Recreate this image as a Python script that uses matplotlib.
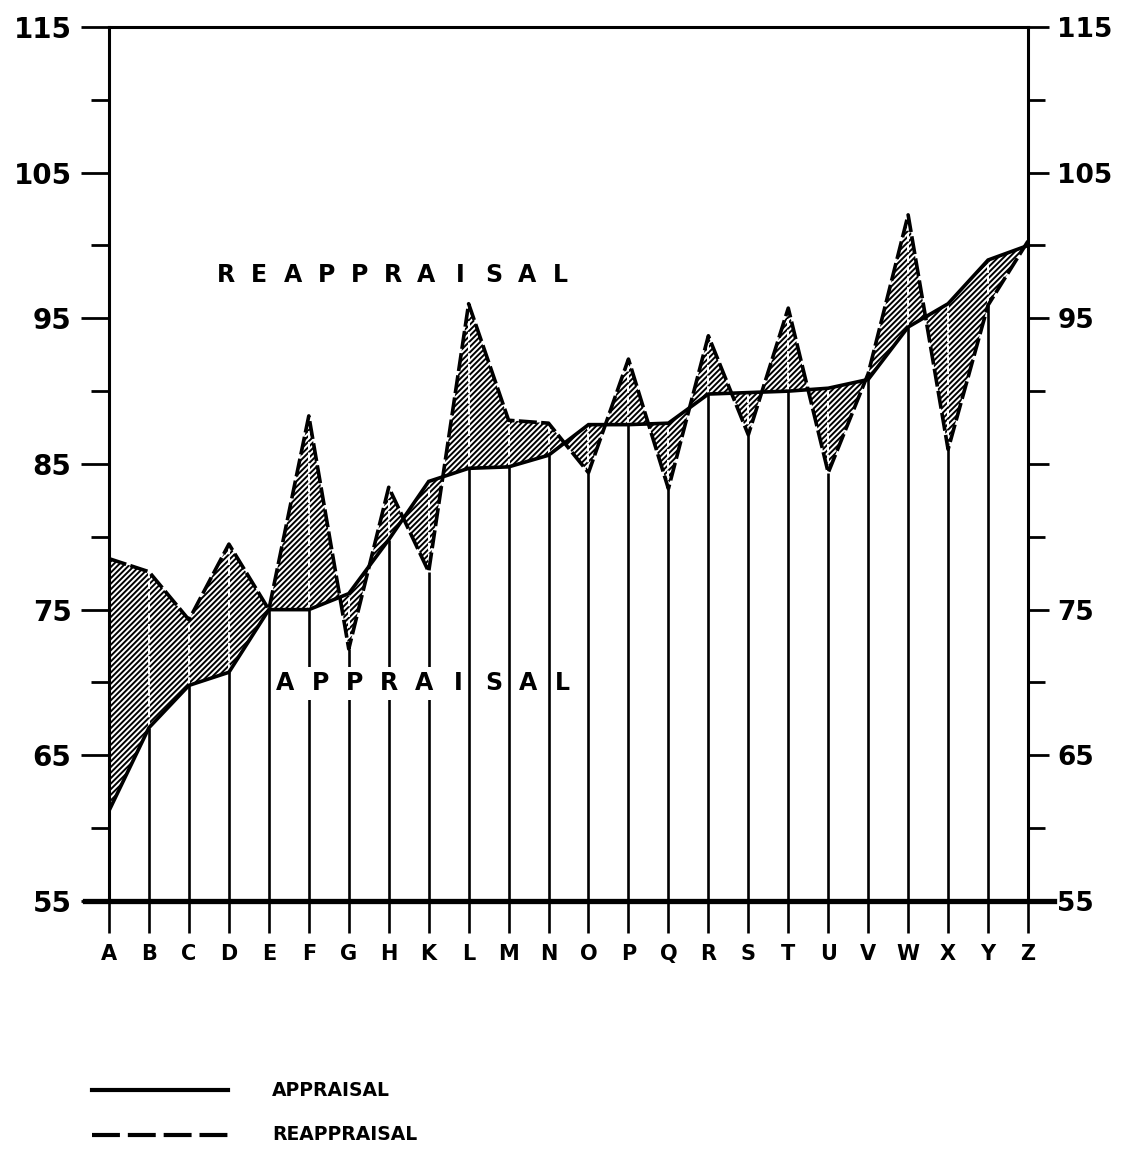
import numpy as np
import matplotlib
matplotlib.use("Agg")
import matplotlib.pyplot as plt
from matplotlib.lines import Line2D

# values (sorted by appraisal)
cats = ['A', 'B', 'C', 'D', 'E', 'F', 'G', 'H', 'K', 'L', 'M', 'N',
        'O', 'P', 'Q', 'R', 'S', 'T', 'U', 'V', 'W', 'X', 'Y', 'Z']
appraisal = [61.2, 66.9, 69.8, 70.7, 75.0, 75.0, 76.1, 79.8, 83.8, 84.7, 84.8, 85.6,
             87.7, 87.7, 87.8, 89.8, 89.9, 90.0, 90.2, 90.8, 94.4, 96.0, 99.0, 100.0]
reappraisal = [78.5, 77.6, 74.3, 79.5, 75.0, 88.3, 72.3, 83.4, 77.6, 96.0, 88.0, 87.8,
               84.4, 92.2, 83.3, 93.8, 87.0, 95.7, 84.4, 91.2, 102.1, 86.0, 95.9, 100.3]

left_labels = [55, 65, 75, 85, 95, 105, 115]
right_labels = ['55', '65', '75', '', '95', '105', '115']
minor = [60, 70, 80, 90, 100, 110]

plt.rcParams['hatch.linewidth'] = 1.4
plt.rcParams['hatch.color'] = 'black'

fig = plt.figure(figsize=(11.23, 11.52), dpi=100)
ax = fig.add_axes([0.0971, 0.2179, 0.8183, 0.7587])

x = np.arange(len(cats))
appr = np.array(appraisal)
reap = np.array(reappraisal)

ax.fill_between(x, appr, reap, facecolor='white', edgecolor='black',
                hatch='//////', linewidth=0, zorder=1)

lo = np.minimum(appr, reap)
hi = np.maximum(appr, reap)
ax.vlines(x, 55, lo, colors='black', linewidth=1.9, zorder=2)
ax.vlines(x, lo, hi, colors='white', linewidth=1.4, linestyles=(0, (4, 1.5)), zorder=2)

ax.plot(x, appr, color='black', lw=2.6, solid_joinstyle='miter', zorder=3)
ax.plot(x, reap, color='black', lw=2.6, dashes=(5, 1.2), zorder=3)

# baseline sticks out past both axes
ax.plot([-0.6, 23.65], [55, 55], color='black', lw=3.8, clip_on=False, zorder=4)

ax.set_xlim(0, 23)
ax.set_ylim(55, 115)
for s in ['left', 'right', 'top']:
    ax.spines[s].set_linewidth(2.2)
ax.spines['bottom'].set_visible(False)

ax.set_xticks(x, cats)
ax.tick_params(axis='x', length=23, width=1.9, pad=8, labelsize=15)
for t in ax.get_xticklabels():
    t.set_fontweight('bold')

ax.set_yticks(left_labels, [str(v) for v in left_labels])
ax.set_yticks(minor, minor=True)
ax.tick_params(axis='y', which='major', length=20, width=2.0, pad=7, labelsize=20)
ax.tick_params(axis='y', which='minor', length=13, width=2.0)
for t in ax.get_yticklabels():
    t.set_fontweight('bold')

ax2 = ax.twinx()
ax2.set_ylim(55, 115)
ax2.set_yticks(left_labels, right_labels)
ax2.set_yticks(minor, minor=True)
ax2.tick_params(axis='y', which='major', length=15, width=2.0, pad=6, labelsize=19)
ax2.tick_params(axis='y', which='minor', length=12, width=2.0)
for t in ax2.get_yticklabels():
    t.set_fontweight('bold')
for s in ax2.spines.values():
    s.set_visible(False)

# spaced-out series names inside the plot
for i, ch in enumerate("REAPPRAISAL"):
    ax.text(0.127 + i * 0.0364, 0.716, ch, transform=ax.transAxes, ha='center',
            va='center', fontsize=17, fontweight='bold', zorder=5)
for i, ch in enumerate("APPRAISAL"):
    ax.text(0.192 + i * 0.0377, 0.249, ch, transform=ax.transAxes, ha='center',
            va='center', fontsize=17, fontweight='bold', zorder=5,
            bbox=dict(facecolor='white', edgecolor='none', pad=3))

# legend drawn by hand below the chart
fig.add_artist(Line2D([0.082, 0.203], [0.0538, 0.0538], color='black', lw=3,
                      transform=fig.transFigure))
fig.add_artist(Line2D([0.082, 0.203], [0.0148, 0.0148], color='black', lw=3,
                      dashes=(6.7, 1.9), transform=fig.transFigure))
fig.text(0.242, 0.0538, "APPRAISAL", fontsize=13.5, fontweight='bold', va='center')
fig.text(0.242, 0.0148, "REAPPRAISAL", fontsize=13.5, fontweight='bold', va='center')

fig.savefig("out.png", dpi=100)
